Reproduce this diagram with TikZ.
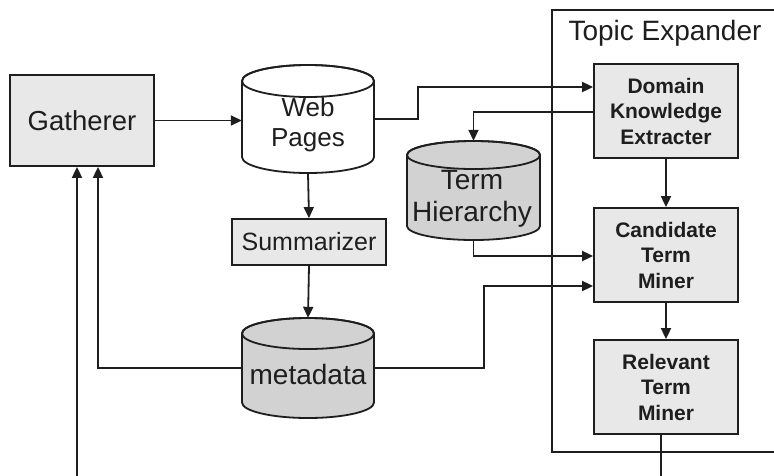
\documentclass[tikz,border=0pt]{standalone}
\usepackage{fontspec}
\setmainfont{Liberation Sans}
\usetikzlibrary{arrows.meta}
\definecolor{boxfill}{HTML}{E8E8E8}
\definecolor{cylfill}{HTML}{D2D2D2}
\definecolor{ink}{HTML}{1E1E1E}
\tikzset{
  line/.style={draw=ink, line width=1.8pt},
  arr/.style={line, -{Triangle[length=11pt,width=10pt]}},
  procbox/.style={draw=ink, line width=1.8pt, fill=boxfill, inner sep=0pt, text=ink},
  boldbox/.style={procbox, minimum width=144pt, minimum height=94pt, align=center,
    font=\fontsize{21}{25.5}\selectfont\bfseries},
  cylbound/.style={inner sep=0pt, draw=none},
  cyltext/.style={text=ink, align=center},
}
\newcommand{\dbcyl}[6]{% cx, top, bottom, rx, ry, fill
  \filldraw[line, fill=#6] (#1-#4,#2+#5) -- (#1-#4,#3-#5)
    arc[start angle=180, end angle=360, x radius=#4pt, y radius=#5pt]
    -- (#1+#4,#2+#5)
    arc[start angle=0, end angle=180, x radius=#4pt, y radius=#5pt] -- cycle;
  \draw[line] (#1-#4,#2+#5) arc[start angle=180, end angle=540, x radius=#4pt, y radius=#5pt];
}
\begin{document}
\begin{tikzpicture}[x=1pt, y=-1pt]
\useasboundingbox (0,0) rectangle (774,475);
\clip (0,0) rectangle (774,475);
\fill[white] (0,0) rectangle (774,475);

% Topic Expander frame
\node[draw=ink, line width=1.8pt, minimum width=240pt, minimum height=442pt, inner sep=0pt, anchor=north west] (topic) at (551,9) {};
\node[text=ink, font=\fontsize{28}{30}\selectfont] (topiclbl) at (665,33) {Topic Expander};

% Gatherer
\node[procbox, minimum width=144pt, minimum height=91pt, font=\fontsize{27.5}{30}\selectfont] (gath) at (82,120.5) {Gatherer};

% Web Pages cylinder
\dbcyl{308}{65}{173}{66}{16}{white}
\node[cylbound, minimum width=132pt, minimum height=108pt] (web) at (308,119) {};
\node[cyltext, font=\fontsize{26}{30}\selectfont] (webtxt) at (308,125) {Web\\Pages};

% Summarizer
\node[procbox, minimum width=154pt, minimum height=46pt, font=\fontsize{25}{28}\selectfont] (summ) at (309,242) {Summarizer};

% metadata cylinder
\dbcyl{308}{318}{418}{66}{15.5}{cylfill}
\node[cylbound, minimum width=132pt, minimum height=100pt] (meta) at (308,368) {};
\node[cyltext, font=\fontsize{28}{30}\selectfont] (metatxt) at (308,374) {metadata};

% Term Hierarchy cylinder
\dbcyl{473.5}{141}{240}{66.5}{14}{cylfill}
\node[cylbound, minimum width=133pt, minimum height=99pt] (termh) at (473.5,190.5) {};
\node[cyltext, font=\fontsize{28}{32}\selectfont] (termtxt) at (472,199) {Term\\Hierarchy};

% Topic Expander boxes
\node[boldbox] (dke) at (666,111) {Domain\\Knowledge\\Extracter};
\node[boldbox] (ctm) at (666,255) {Candidate\\Term\\Miner};
\node[boldbox] (rtm) at (666,387) {Relevant\\Term\\Miner};

% connectors
\draw[arr] (gath.east) -- (gath.east -| web.west);
\draw[arr] (web.east) -| (418,87) -- (dke.west |- 0,87);
\draw[arr] (dke.west |- 0,112) -| (termh.north);
\draw[arr] (dke.south) -- (ctm.north);
\draw[arr] (termh.south) |- (ctm.west |- 0,256);
\draw[arr] (meta.east) -| (484,286) -- (ctm.west |- 0,286);
\draw[arr] (ctm.south) -- (rtm.north);
\draw[arr] (web.south) -- (summ.north);
\draw[arr] (summ.south) -- (meta.north);
\draw[arr] (meta.west) -| ([xshift=16pt]gath.south);
\draw[arr] ([xshift=-5pt]rtm.south) -- (661,490) -| ([xshift=-5pt]gath.south);
\end{tikzpicture}
\end{document}
